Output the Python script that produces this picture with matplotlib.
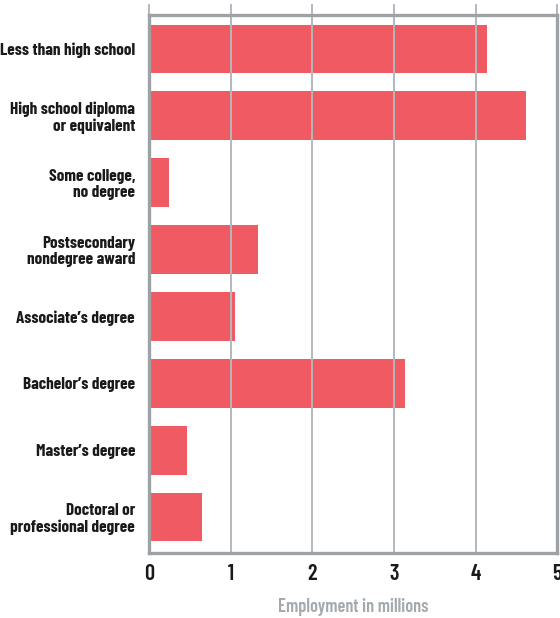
import matplotlib
matplotlib.use("Agg")
import matplotlib.pyplot as plt

# ==========================================================
# Data
# ==========================================================

categories = [
    "Less than high school",
    "High school diploma\nor equivalent",
    "Some college,\nno degree",
    "Postsecondary\nnondegree award",
    "Associate\u2019s degree",
    "Bachelor\u2019s degree",
    "Master\u2019s degree",
    "Doctoral or\nprofessional degree",
]

employment = [4.14, 4.62, 0.24, 1.34, 1.05, 3.14, 0.46, 0.65]

x_ticks = [0, 1, 2, 3, 4, 5]

# ==========================================================
# Style
# ==========================================================

FONT = ["Barlow Condensed", "DejaVu Sans"]

BAR = "#ef5a63"
FRAME = "#9ca2a6"
GRID = "#b4b8bc"
LABEL = "#a3a9ad"

fig = plt.figure(figsize=(5.6, 6.18), dpi=100)
ax = fig.add_axes([0.266, 0.105, 0.729, 0.871])

pos = list(range(len(categories)))

ax.barh(pos, employment, height=0.73, color=BAR, zorder=2)

ax.set_xlim(0, 5)
ax.set_ylim(len(categories) - 1 + 0.54, -0.51)

for t in x_ticks[1:-1]:
    ax.axvline(t, ymin=0, ymax=1.019, color=GRID, linewidth=1.4,
               zorder=3, clip_on=False)
for t in [x_ticks[0], x_ticks[-1]]:
    ax.axvline(t, ymin=1.0, ymax=1.019, color=GRID, linewidth=1.4,
               zorder=3, clip_on=False)

for s in ax.spines.values():
    s.set_color(FRAME)
    s.set_linewidth(2.4)
    s.set_zorder(4)

ax.set_xticks(x_ticks)
ax.set_xticklabels([str(t) for t in x_ticks], fontsize=16,
                   fontfamily=FONT, fontweight=600, color="#1a1a1a")
ax.set_yticks(pos)
ax.set_yticklabels(categories, fontsize=12.4, fontfamily=FONT,
                   fontweight=700, color="#1a1a1a", linespacing=1.1)
ax.tick_params(axis="both", length=0)
ax.tick_params(axis="x", pad=8)
ax.tick_params(axis="y", pad=10)

ax.set_xlabel("Employment in millions", fontsize=13.2, fontfamily=FONT,
              fontweight=600, color=LABEL, labelpad=10)

fig.savefig("out.png", dpi=100)
